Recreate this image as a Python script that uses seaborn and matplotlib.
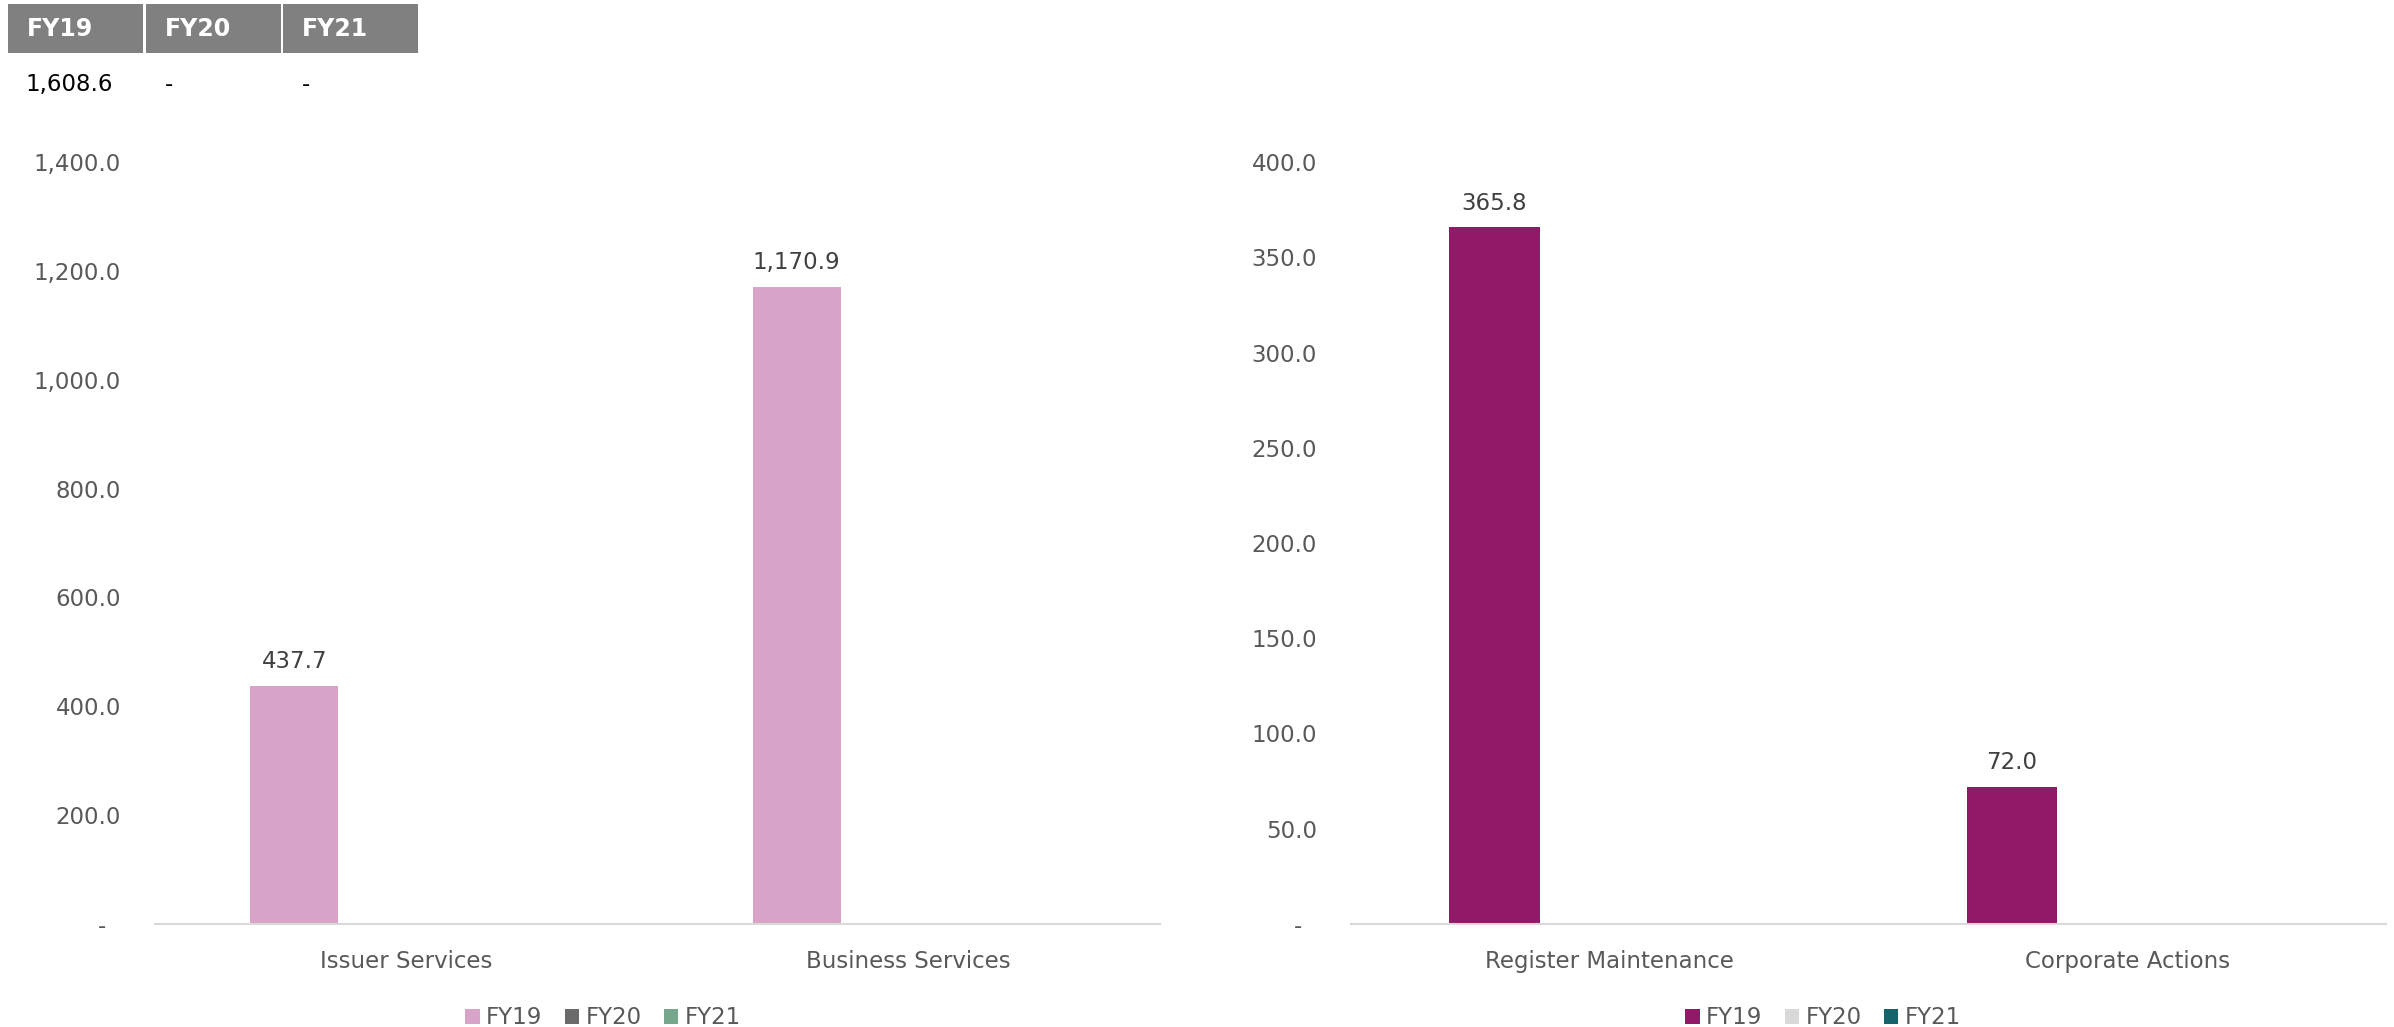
import numpy as np
import pandas as pd
import matplotlib
matplotlib.use("Agg")
import matplotlib.pyplot as plt
import seaborn as sns
from matplotlib.patches import Rectangle, Patch
from matplotlib.ticker import FuncFormatter

# ---------------- data ----------------
years = ["FY19", "FY20", "FY21"]

left_categories = ["Issuer Services", "Business Services"]
left_fy19 = [437.7, 1170.9]
left_fy20 = [0.0, 0.0]
left_fy21 = [0.0, 0.0]

right_categories = ["Register Maintenance", "Corporate Actions"]
right_fy19 = [365.8, 72.0]
right_fy20 = [0.0, 0.0]
right_fy21 = [0.0, 0.0]

total_labels = ["FY19", "FY20", "FY21"]
total_values = ["1,608.6", "-", "-"]

left_colors = ["#D8A3C7", "#6B6B6B", "#76A68B"]
right_colors = ["#921868", "#D9D9D9", "#16646B"]

# ---------------- figure ----------------
sns.set_theme(style="white")
plt.rcParams['font.family'] = ['DejaVu Sans']

W, H = 2394, 1027
fig = plt.figure(figsize=(W / 100, H / 100), dpi=100)


def fx(px):
    return px / W


def fy(py):
    return 1 - py / H


ax1 = fig.add_axes([fx(155), fy(924), fx(1160) - fx(155), fy(162) - fy(924)])
ax2 = fig.add_axes([fx(1351), fy(924), fx(2386) - fx(1351), fy(162) - fy(924)])


def long_df(cats, a, b, c):
    rows = []
    for i, cat in enumerate(cats):
        for y, vals in zip(years, (a, b, c)):
            rows.append({"category": cat, "year": y, "value": vals[i]})
    return pd.DataFrame(rows)


def fmt(v, pos=None):
    if abs(v) < 1e-9:
        return "-\u2007"
    return f"{v:,.1f}"


FS = 16.5
setups = [
    (ax1, long_df(left_categories, left_fy19, left_fy20, left_fy21), left_categories, left_colors, 1400, 200),
    (ax2, long_df(right_categories, right_fy19, right_fy20, right_fy21), right_categories, right_colors, 400, 50),
]

for ax, df, cats, colors, ymax, step in setups:
    sns.barplot(data=df, x="category", y="value", hue="year", hue_order=years,
                order=cats, palette=colors, width=0.669, gap=0.215, linewidth=0,
                saturation=1, ax=ax, legend=False, errorbar=None)
    ax.set_ylim(0, ymax)
    ax.set_xlim(-0.5, 1.5)
    ax.set_yticks(np.arange(0, ymax + step / 2, step))
    ax.yaxis.set_major_formatter(FuncFormatter(fmt))
    for sp in ['left', 'right', 'top']:
        ax.spines[sp].set_visible(False)
    ax.spines['bottom'].set_color('#D9D9D9')
    ax.spines['bottom'].set_linewidth(1.5)
    ax.tick_params(axis='both', length=0, labelsize=FS, colors='#595959')
    ax.tick_params(axis='y', pad=24.5)
    ax.tick_params(axis='x', pad=18.5)
    ax.set_xlabel('')
    ax.set_ylabel('')
    ax.grid(False)
    for cont in ax.containers:
        labels = [f"{v:,.1f}" if v else "" for v in cont.datavalues]
        ax.bar_label(cont, labels=labels, padding=9, fontsize=FS, color='#404040')

# legends
for colors, cx in [(left_colors, 603), (right_colors, 1823)]:
    handles = [Patch(facecolor=c, edgecolor='none', label=y) for c, y in zip(colors, years)]
    fig.legend(handles=handles, loc='center', bbox_to_anchor=(fx(cx), fy(1018)),
               ncol=3, frameon=False, fontsize=FS, handlelength=0.65, handleheight=0.65,
               handletextpad=0.26, columnspacing=0.96, labelcolor='#595959',
               borderpad=0, borderaxespad=0)

# header table
box_x = [(8, 143), (146, 281), (283, 418)]
for (x0, x1), lab in zip(box_x, total_labels):
    fig.add_artist(Rectangle((fx(x0), fy(53)), fx(x1) - fx(x0), fy(4) - fy(53),
                             transform=fig.transFigure, facecolor='#808080', edgecolor='none'))
    fig.text(fx(x0 + 19), fy(29), lab, color='white', fontsize=17, fontweight='bold',
             ha='left', va='center')

val_x = [25, 165, 302]
for x, v in zip(val_x, total_values):
    fig.text(fx(x), fy(84), v, color='black', fontsize=FS, ha='left', va='center')

fig.savefig("out.png", dpi=100)
